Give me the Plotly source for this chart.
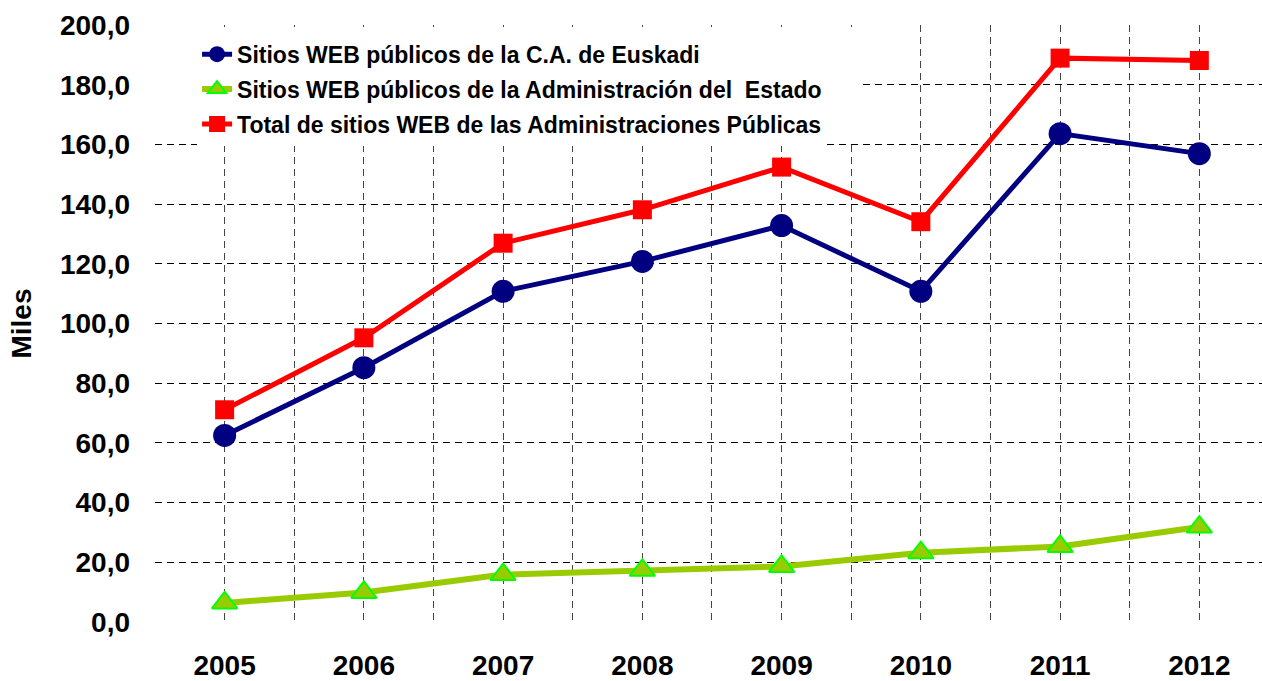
import plotly.graph_objects as go

years = [2005, 2006, 2007, 2008, 2009, 2010, 2011, 2012]
euskadi = [62.5, 85.2, 110.8, 120.8, 132.8, 110.8, 163.6, 156.9]
estado = [6.4, 9.9, 15.9, 17.3, 18.6, 23.2, 25.3, 31.8]
total = [71.1, 95.2, 126.9, 138.1, 152.4, 134.1, 188.9, 188.1]

names = [
    "Sitios WEB públicos de la C.A. de Euskadi",
    "Sitios WEB públicos de la Administración del  Estado",
    "Total de sitios WEB de las Administraciones Públicas",
]

FONT = "Liberation Sans, Arial, sans-serif"
GRID_V = "#444444"
DASH = "7px,5px"

fig = go.Figure()
fig.add_trace(go.Scatter(
    x=years, y=euskadi, name=names[0], mode="lines+markers", legendgroup="a",
    line=dict(color="#000080", width=5),
    marker=dict(symbol="circle", size=23, color="#000080"),
))
fig.add_trace(go.Scatter(
    x=years, y=estado, name=names[1], mode="lines+markers", legendgroup="b",
    line=dict(color="#99CC00", width=6),
    marker=dict(symbol="triangle-up", size=22, color="#99CC00",
                line=dict(color="#00FF00", width=2)),
))
fig.add_trace(go.Scatter(
    x=years, y=total, name=names[2], mode="lines+markers", legendgroup="c",
    line=dict(color="#FF0000", width=5),
    marker=dict(symbol="square", size=19, color="#FF0000"),
))

# white backdrop behind the legend, hiding the grid like the original
fig.add_shape(type="rect", xref="paper", yref="paper",
              x0=-0.0045, x1=0.6387, y0=0.8023, y1=0.9966,
              fillcolor="white", line=dict(width=0), layer="above")

fig.update_layout(
    template="none",
    width=1262, height=681,
    margin=dict(l=155, r=0, t=25, b=59),
    paper_bgcolor="white", plot_bgcolor="white",
    separators=",.",
    font=dict(family=FONT, color="black"),
    showlegend=True,
    legend=dict(
        x=0.038, y=0.987, xanchor="left", yanchor="top",
        bgcolor="white", borderwidth=0,
        font=dict(family=FONT, size=23, weight="bold", color="black"),
        tracegroupgap=2,
    ),
    xaxis=dict(
        range=[2004.5, 2012.45],
        tickmode="linear", tick0=2005, dtick=1, tickformat="d",
        showgrid=True, gridcolor=GRID_V, gridwidth=1, griddash=DASH,
        minor=dict(tick0=2004.5, dtick=0.5, showgrid=True, gridcolor=GRID_V,
                   gridwidth=1, griddash=DASH),
        zeroline=False, showline=False, ticks="",
        tickfont=dict(family=FONT, size=28, weight="bold", color="black"),
        ticklabelstandoff=24,
    ),
    yaxis=dict(
        range=[0, 200], tickmode="linear", tick0=0, dtick=20, tickformat=".1f",
        showgrid=True, gridcolor="black", gridwidth=1, griddash=DASH,
        zeroline=False, showline=False, ticks="",
        tickfont=dict(family=FONT, size=28, weight="bold", color="black"),
        ticklabelstandoff=24,
        title=dict(text="Miles", standoff=20,
                   font=dict(family=FONT, size=28, weight="bold", color="black")),
    ),
)

fig.write_html("out.html",
               config={"displayModeBar": False},
               post_script="document.body.style.margin='0px';"
                           "document.body.style.overflow='hidden';")
